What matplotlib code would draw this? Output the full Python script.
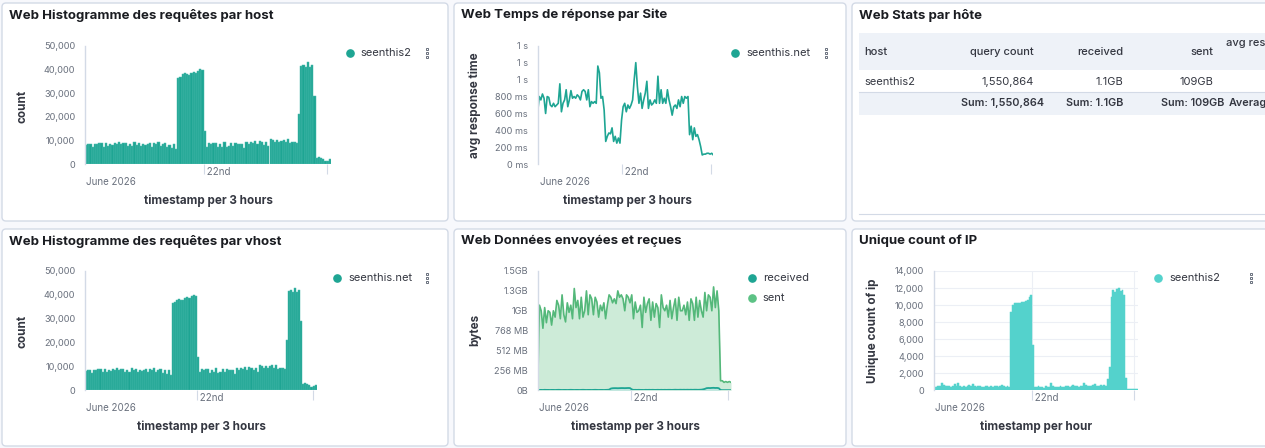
import numpy as np
import matplotlib
matplotlib.use("Agg")
import matplotlib.pyplot as plt
import matplotlib.transforms as mtransforms
from matplotlib.patches import FancyBboxPatch, Rectangle
from matplotlib.lines import Line2D

W, H = 1265, 448
plt.rcParams['font.family'] = ['Inter', 'DejaVu Sans']

# ---- data (3 hour buckets, ~2 weeks of June 2026) ----
count_host = [
    8000, 8500, 8700, 7300, 8600, 8400, 9000, 9000, 7500, 8800,
    7600, 8600, 8200, 8800, 8700, 9400, 8500, 9000, 8900, 7700,
    8600, 7800, 9300, 8300, 8800, 7600, 8700, 8200, 8600, 8800,
    7500, 9000, 8700, 9200, 7600, 8700, 9000, 7200, 8300, 6800,
    8500, 6500,
    36500, 37000, 38000, 38300, 38000, 37800, 38500, 39000, 38700, 39500, 40000, 39700,
    14000,
    7500, 9000, 8700, 9100, 9000, 7400, 8700, 7500, 9500, 7400,
    7800, 8800, 7600, 9000, 8500, 8600, 8700, 7000, 9200, 8700,
    9400, 8800, 9900, 8600, 9800, 9500, 8300, 9400, 7800, 10500,
    10200, 9400, 10200, 9500, 10000, 10400, 9300, 10600, 9000, 9500,
    9300, 9000,
    21000, 41500, 42000, 41000, 43000, 41000, 42000, 29000,
    2500, 3200, 2600, 2400, 1500, 1600, 2300,
]
count_vhost = list(count_host)

resp_ms = [
    620, 800, 760, 830, 780, 600, 800, 790, 700, 680,
    720, 680, 700, 720, 950, 620, 720, 760, 880, 680,
    760, 870, 780, 800, 780, 820, 800, 760, 860, 880,
    860, 760, 880, 680, 740, 720, 740, 720, 1160, 1080,
    780, 800, 640, 270, 330, 370, 360, 430, 270, 330,
    250, 310, 250, 520, 680, 720, 620, 700, 660, 700,
    760, 1000, 1200, 920, 720, 840, 660, 760, 840, 980,
    660, 760, 700, 720, 760, 720, 1040, 720, 880, 720,
    780, 720, 880, 760, 680, 580, 680, 700, 660, 760,
    680, 800, 720, 800, 780, 800, 350, 450, 290, 430,
    330, 350, 290, 210, 110, 120, 120, 130, 130, 120,
    130, 110,
]

sent_gb = [
    0.05, 1.07, 1.0, 0.78, 1.04, 0.85, 1.0, 0.98, 0.82, 1.0,
    0.92, 1.13, 1.07, 0.9, 1.2, 0.95, 0.86, 1.1, 0.98, 1.07,
    0.9, 1.28, 1.04, 1.13, 0.9, 1.17, 0.92, 1.0, 1.25, 0.95,
    1.2, 1.15, 0.95, 1.17, 1.11, 0.92, 1.07, 1.0, 1.1, 0.9,
    1.07, 1.2, 1.17, 1.1, 1.15, 1.09, 1.25, 1.17, 1.2, 1.15,
    1.0, 1.2, 1.17, 1.1, 1.2, 0.9,
    1.11, 0.98, 1.0, 1.07, 0.79, 1.17, 0.98, 1.09, 1.15, 0.88,
    1.11, 0.92, 1.09, 1.04, 0.79, 1.2, 1.04, 1.0, 1.07, 0.92,
    1.13, 0.9, 1.04, 1.15, 0.88, 1.17, 1.0, 1.0, 1.07, 0.95,
    1.11, 0.88, 1.15, 1.09, 0.88, 1.17, 0.92, 1.13, 1.0, 0.92,
    1.23, 1.0, 1.2, 1.17, 1.0, 1.3, 1.04, 1.25, 1.0,
    0.12, 0.12, 0.1, 0.11, 0.1, 0.11, 0.1,
]

received_gb = [
    0.003, 0.005, 0.005, 0.004, 0.006, 0.005, 0.005, 0.004, 0.005, 0.005,
    0.004, 0.005, 0.006, 0.005, 0.004, 0.005, 0.005, 0.004, 0.005, 0.006,
    0.005, 0.004, 0.005, 0.005, 0.004, 0.005, 0.006, 0.005, 0.004, 0.005,
    0.005, 0.004, 0.005, 0.006, 0.005, 0.004, 0.005, 0.005, 0.004, 0.005,
    0.006, 0.008,
    0.022, 0.026, 0.027, 0.027, 0.026, 0.027, 0.028, 0.028, 0.027, 0.028, 0.029, 0.028,
    0.012,
    0.005, 0.006, 0.005, 0.006, 0.005, 0.005, 0.004, 0.006, 0.005, 0.006,
    0.005, 0.006, 0.005, 0.005, 0.006, 0.005, 0.006, 0.005, 0.006, 0.005,
    0.006, 0.006, 0.005, 0.006, 0.007, 0.006, 0.006, 0.007, 0.006, 0.007,
    0.006, 0.007, 0.006, 0.007, 0.006, 0.007, 0.007, 0.006, 0.007, 0.008, 0.012,
    0.018, 0.027, 0.029, 0.028, 0.030, 0.031, 0.029, 0.030, 0.026,
    0.004, 0.002, 0.002, 0.002, 0.002, 0.002, 0.002,
]

unique_ip = [
    400, 350, 500, 450, 800, 600, 500, 450, 550, 400,
    450, 700, 500, 800, 450, 400, 500, 350, 450, 600,
    550, 700, 450, 400, 500, 450, 400, 350, 450, 500,
    400, 450, 400, 500, 450, 350, 550, 650, 450, 400,
    450, 350,
    9200, 10000, 10200, 10300, 10200, 10300, 10400, 10400, 10500, 10600, 10900, 11200,
    5300,
    400, 350, 450, 350, 400, 300, 450, 400, 350, 800,
    450, 400, 350, 400, 450, 400, 350, 500, 450, 400,
    450, 600, 500, 450, 400, 500, 450, 900, 600, 500,
    550, 450, 600, 700, 500, 550, 600, 500, 600, 500, 1300,
    2700,
    11000, 11800, 11500, 11900, 12000, 11600, 11800, 11200,
    1500,
    150, 120, 100, 100, 120, 100,
]

table_cols = ["host", "query count", "received", "sent", "avg response time"]
table_row = ["seenthis2", "1,550,864", "1.1GB", "109GB", ""]
table_sum = ["", "Sum: 1,550,864", "Sum: 1.1GB", "Sum: 109GB", "Average"]

T22, TEND = 53.5, 109.5   # bucket positions of the 22nd and the next week tick

# ---- style ----
BG = '#f7f8fc'
BORDER = '#d3dae6'
TITLE_C = '#1a1c21'
LABEL_C = '#343741'
TICK_C = '#69707d'
TEAL = '#1ea593'
TEAL_EDGE = '#4cbcae'
TURQ = '#54d2cc'
GREEN = '#54b87a'
GREEN_FILL = '#cdebd8'

fig = plt.figure(figsize=(W / 100, H / 100), dpi=100)
fig.patch.set_facecolor(BG)

# pixel coordinates, origin top-left
PX = mtransforms.Affine2D().scale(1, -1).translate(0, H)


def text(x, y, s, **kw):
    kw.setdefault('va', 'center')
    fig.text(x, y, s, transform=PX, **kw)


def panel(x0, y0, x1, y1, title):
    box = FancyBboxPatch((x0, y0), x1 - x0, y1 - y0,
                         boxstyle="round,pad=0,rounding_size=4",
                         transform=PX, fc='white', ec=BORDER, lw=1, zorder=0)
    fig.add_artist(box)
    text(x0 + 7, y0 + 12, title, fontsize=9.5, weight='bold', color=TITLE_C)


def legend(x, y, label, color):
    fig.add_artist(Line2D([x], [y], transform=PX, marker='o', ms=5.2,
                          color=color, mec=color, lw=0))
    text(x + 11, y, label, fontsize=8, color=LABEL_C)


def menu(x, y):
    fig.add_artist(Line2D([x, x, x], [y - 4, y, y + 4], transform=PX, marker='s',
                          ms=2.0, mfc='white', mec=TICK_C, mew=0.7, lw=0))


def make_axes(x0, y0, x1, y1):
    ax = fig.add_axes([x0 / W, 1 - y1 / H, (x1 - x0) / W, (y1 - y0) / H])
    ax.set_facecolor('none')
    for s in ['top', 'right', 'bottom']:
        ax.spines[s].set_visible(False)
    ax.spines['left'].set_color(BORDER)
    ax.spines['left'].set_linewidth(1)
    ax.tick_params(axis='y', length=0, pad=7, labelsize=6.6, labelcolor=TICK_C)
    ax.tick_params(axis='x', length=7, width=0.8, color=BORDER, labelbottom=False)
    ax.set_xticks([T22, TEND])
    return ax


def time_labels(ax, row_y, xlabel, xlabel_x, left_x):
    tr = mtransforms.blended_transform_factory(ax.transData, PX)
    ax.text(T22, row_y + 172, " 22nd", transform=tr, fontsize=7, color=TICK_C,
            va='center', ha='left', clip_on=False)
    text(left_x, row_y + 182, "June 2026", fontsize=7, color=TICK_C)
    text(xlabel_x, row_y + 201, xlabel, fontsize=8.4, weight='bold',
         color=LABEL_C, ha='center')


def ylabel(x, y, s):
    text(x, y, s, fontsize=8.4, weight='bold', color=LABEL_C, ha='center',
         rotation=90)


def bars(ax, values, color, edge):
    ax.bar(np.arange(len(values)), values, width=1.0, color=color,
           edgecolor=edge, lw=0.35)
    ax.set_xlim(-0.5, len(values) - 0.5)


# ---------------- panels ----------------
panel(2, 3, 448, 221, "Web Histogramme des requêtes par host")
panel(454, 3, 846, 221, "Web Temps de réponse par Site")
panel(852, 3, 1285, 221, "Web Stats par hôte")
panel(2, 229, 448, 446, "Web Histogramme des requêtes par vhost")
panel(454, 229, 846, 446, "Web Données envoyées et reçues")
panel(852, 229, 1285, 446, "Unique count of IP")

count_ticks = [0, 10000, 20000, 30000, 40000, 50000]

# 1 - requests per host
ax1 = make_axes(85, 45.7, 331, 164.3)
bars(ax1, count_host, TEAL, TEAL_EDGE)
ax1.set_ylim(0, 50000)
ax1.set_yticks(count_ticks, [f"{v:,}" for v in count_ticks])
time_labels(ax1, 0, "timestamp per 3 hours", 208, 86)
ylabel(23, 106, "count")
legend(349.5, 53, "seenthis2", TEAL)
menu(427, 53)

# 2 - response time
ax2 = make_axes(537.7, 45.7, 713.3, 164.3)
ax2.plot(np.arange(len(resp_ms)), resp_ms, color=TEAL, lw=1.2)
ax2.set_xlim(0, len(resp_ms) - 1)
ax2.set_ylim(0, 1400)
ms_ticks = [0, 200, 400, 600, 800, 1000, 1200, 1400]
ax2.set_yticks(ms_ticks, [f"{v} ms" if v < 1000 else "1 s" for v in ms_ticks])
time_labels(ax2, 0, "timestamp per 3 hours", 627, 540)
ylabel(475, 105, "avg response time")
legend(735, 53, "seenthis.net", TEAL)
menu(826, 53)

# 3 - stats table
fig.add_artist(Rectangle((859, 33.3), 420, 36.7, transform=PX, fc='#eef2f8', lw=0))
fig.add_artist(Rectangle((859, 92.3), 420, 22.7, transform=PX, fc='#eef2f8', lw=0))
fig.add_artist(Line2D([859, 1280], [91.8, 91.8], transform=PX, color=BORDER, lw=0.8))
fig.add_artist(Line2D([859, 1280], [214, 214], transform=PX, color=BORDER, lw=0.8))
col_x = [864, 1034, 1123.7, 1213, 1225.7]
col_ha = ['left', 'right', 'right', 'right', 'left']
for i, name in enumerate(table_cols):
    yy = 43.3 if i == 4 else 51.7
    text(col_x[i], yy, name, fontsize=8, weight='medium', color=LABEL_C, ha=col_ha[i])
for i, val in enumerate(table_row):
    text(col_x[i], 81.7, val, fontsize=8, color=LABEL_C, ha=col_ha[i])
sum_x = [864, 1044, 1123.7, 1224, 1229]
for i, val in enumerate(table_sum):
    text(sum_x[i], 103.3, val, fontsize=7.8, weight='semibold', color=LABEL_C, ha=col_ha[i])

# 4 - requests per vhost
ax4 = make_axes(85, 271, 316.7, 390.3)
bars(ax4, count_vhost, TEAL, TEAL_EDGE)
ax4.set_ylim(0, 50000)
ax4.set_yticks(count_ticks, [f"{v:,}" for v in count_ticks])
time_labels(ax4, 226, "timestamp per 3 hours", 201, 86)
ylabel(23, 331, "count")
legend(337.3, 278.3, "seenthis.net", TEAL)
menu(427.3, 278.3)

# 5 - bytes sent / received
ax5 = make_axes(537.7, 271, 731, 390.3)
xs = np.arange(len(sent_gb))
ax5.fill_between(xs, sent_gb, color=GREEN_FILL, lw=0)
ax5.plot(xs, sent_gb, color=GREEN, lw=1.2)
xr = np.arange(len(received_gb))
ax5.fill_between(xr, received_gb, color='#bfe6e0', lw=0)
ax5.plot(xr, received_gb, color=TEAL, lw=1.3)
ax5.set_xlim(0, len(sent_gb) - 1)
ax5.set_ylim(0, 1.5)
ax5.set_yticks([0, 0.25, 0.5, 0.75, 1.0, 1.25, 1.5],
               ["0B", "256 MB", "512 MB", "768 MB", "1GB", "1.3GB", "1.5GB"])
time_labels(ax5, 226, "timestamp per 3 hours", 635, 539)
ylabel(475, 330, "bytes")
legend(751.7, 278.3, "received", TEAL)
legend(751.7, 298.3, "sent", '#5cc285')

# 6 - unique IPs
ax6 = make_axes(933.7, 271, 1138, 390.3)
ax6.grid(True, color='#eceff5', lw=0.8)
ax6.set_axisbelow(True)
bars(ax6, unique_ip, TURQ, TURQ)
ax6.set_ylim(0, 14000)
ip_ticks = list(range(0, 14001, 2000))
ax6.set_yticks(ip_ticks, [f"{v:,}" for v in ip_ticks])
time_labels(ax6, 226, "timestamp per hour", 1036, 935)
ylabel(873, 331, "Unique count of ip")
legend(1158, 278.3, "seenthis2", TURQ)
menu(1251.3, 278.3)

fig.savefig("out.png", dpi=100, facecolor=BG)
